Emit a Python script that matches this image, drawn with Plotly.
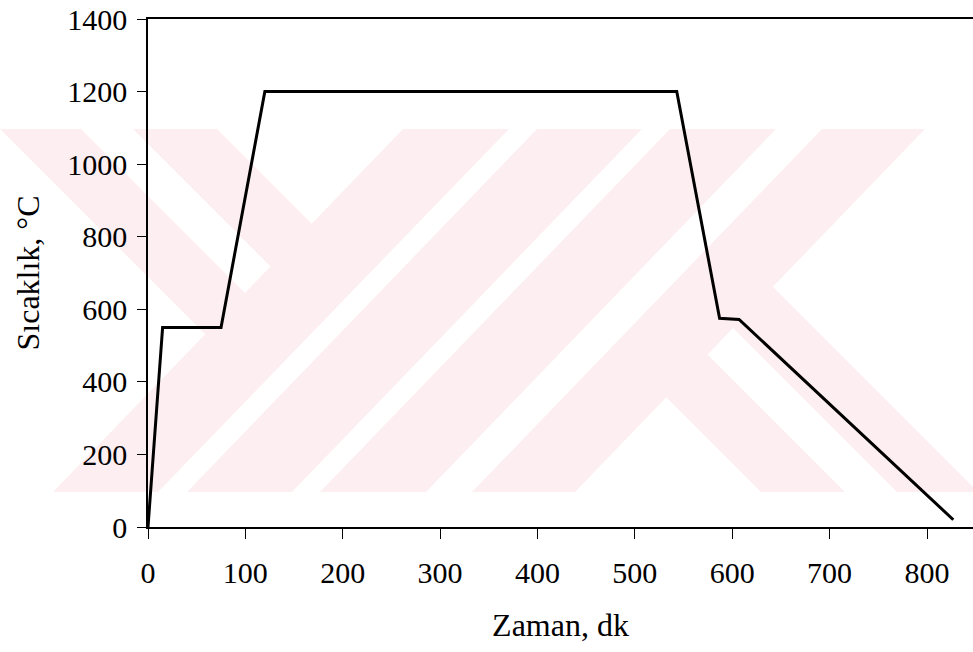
import plotly.graph_objects as go

# ---- data ----
zaman_dk = [0, 15, 75, 120, 543, 587, 607, 827]
sicaklik_c = [0, 550, 550, 1200, 1200, 575, 572, 20]
x_ticks = [0, 100, 200, 300, 400, 500, 600, 700, 800]
y_ticks = [0, 200, 400, 600, 800, 1000, 1200, 1400]

# ---- layout geometry (pixels) ----
W, H = 973, 652
L, R, T, B = 148, 973, 19, 527

def px2paper(px, py):
    return (px - L) / (R - L), (B - py) / (B - T)

# decorative background watermark (pixel polygons)
wm_top, wm_bot = 129, 492
stripes = [((403, 509), (53, 158)), ((537, 642), (187, 292)),
           ((670, 776), (320, 426)), ((822, 925), (472, 575))]
wm_polys = []
for (tl, tr), (bl, br) in stripes:
    wm_polys.append([(tl, wm_top), (tr, wm_top), (br, wm_bot), (bl, wm_bot)])
left_arms = [[(0, 129), (81, 129), (271, 319), (230, 359)],
             [(133, 129), (217, 129), (337, 249), (293, 289)]]
cx2, cy2 = 978, 621
for poly in left_arms:
    wm_polys.append(poly)
    wm_polys.append([(cx2 - x, cy2 - y) for x, y in poly])

shapes = []
for poly in wm_polys:
    pts = [px2paper(x, y) for x, y in poly]
    path = "M " + " L ".join(f"{x:.5f},{y:.5f}" for x, y in pts) + " Z"
    shapes.append(dict(type="path", path=path, xref="paper", yref="paper",
                       fillcolor="#fdeef1", line=dict(width=0), layer="below"))

fig = go.Figure()
fig.add_trace(go.Scatter(x=zaman_dk, y=sicaklik_c, mode="lines",
                         line=dict(color="black", width=3), showlegend=False,
                         cliponaxis=False))

font_family = "Liberation Serif, Times New Roman, serif"
x_max = (R - L) / ((927 - 148) / 800)

fig.update_layout(
    width=W, height=H,
    margin=dict(l=L, r=W - R, t=T, b=H - B, autoexpand=False),
    paper_bgcolor="white", plot_bgcolor="rgba(0,0,0,0)",
    font=dict(family=font_family, color="black", size=30),
    shapes=shapes,
    xaxis=dict(range=[0, x_max], tickvals=x_ticks, ticktext=[str(v) for v in x_ticks],
               showgrid=False, zeroline=False, showline=True, linecolor="black",
               linewidth=1.5, mirror=True, ticks="outside", ticklen=10,
               tickcolor="black", tickwidth=1.2, ticklabelstandoff=8,
               ticklabeloverflow="allow", tickfont=dict(size=30), automargin=False,
               title=dict(text="Zaman, dk", font=dict(size=32), standoff=26)),
    yaxis=dict(range=[0, 1400], tickvals=y_ticks, ticktext=[str(v) for v in y_ticks],
               showgrid=False, zeroline=False, showline=True, linecolor="black",
               linewidth=1.5, ticks="outside", ticklen=9, tickcolor="black",
               tickwidth=1.2, ticklabelstandoff=4, ticklabeloverflow="allow",
               tickfont=dict(size=30), automargin=False,
               title=dict(text="Sıcaklık, °C", font=dict(size=32), standoff=18)),
)

fig.write_html("out.html", config={"displayModeBar": False},
               post_script="document.body.style.margin='0';document.body.style.overflow='hidden';")
